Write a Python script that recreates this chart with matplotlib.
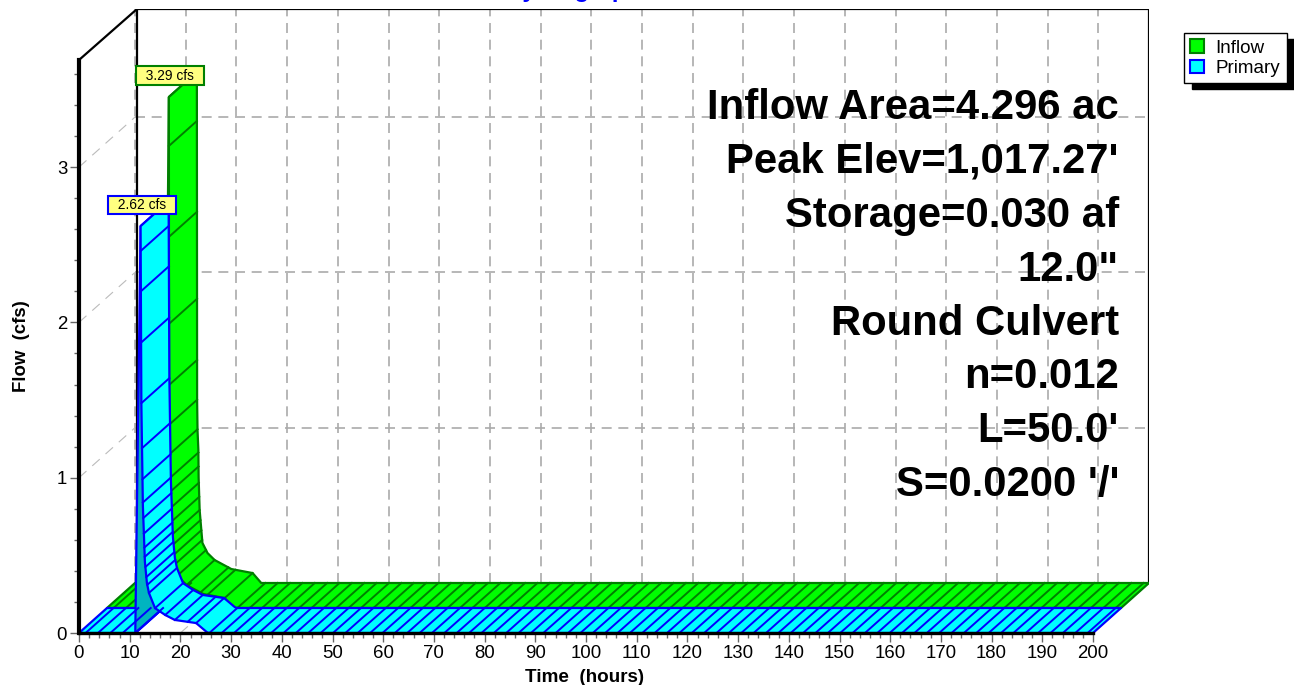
from matplotlib import pyplot as plt
from matplotlib.patches import Patch, Polygon
import numpy as np

# hydrograph outlines
primary_time = [0, 11.1, 12.15, 12.3, 12.6, 13.0, 13.4, 13.8, 15.0, 17.0, 18.9, 23.1, 25.2, 25.6, 200]
primary_flow = [0, 0, 2.62, 1.48, 0.82, 0.457, 0.32, 0.258, 0.16, 0.116, 0.084, 0.064, 0.006, 0, 0]
inflow_time = [0, 11.3, 12.2, 12.25, 12.33, 12.5, 12.55, 12.75, 13.3, 14.3, 15.7, 19.0, 23.2, 24.9, 200]
inflow_flow = [0, 0, 3.29, 1.18, 0.985, 0.856, 0.68, 0.47, 0.258, 0.193, 0.148, 0.09, 0.064, 0, 0]

# flows where the cross lines meet the falling limb
primary_rungs = [2.46, 2.20, 1.87, 1.48, 1.19, 0.99, 0.84, 0.74, 0.64, 0.55, 0.49, 0.425, 0.36,
                 0.31, 0.258, 0.16, 0.116, 0.084, 0.072, 0.064]
inflow_rungs = [2.975, 2.39, 1.83, 1.436, 1.18, 0.99, 0.84, 0.75, 0.645, 0.555, 0.47, 0.405, 0.34,
                0.277, 0.212, 0.148, 0.10, 0.085, 0.064]

time_ticks = list(range(0, 201, 10))
flow_ticks = [0, 1, 2, 3]
note_lines = ["Inflow Area=4.296 ac", "Peak Elev=1,017.27'", "Storage=0.030 af", '12.0"',
              "Round Culvert", "n=0.012", "L=50.0'", "S=0.0200 '/'"]

plt.rcParams['font.family'] = ['Liberation Sans', 'DejaVu Sans']

PX_T = 5.07     # pixels per hour
PX_Q = 155.3    # pixels per cfs
DT = 28 / PX_T  # depth step of one series, in hours
DQ = 25 / PX_Q  # depth step of one series, in cfs

fig = plt.figure(figsize=(12.94, 6.85), dpi=100)
ax = fig.add_axes([79 / 1294, 52 / 685, 1070 / 1294, 624 / 685])
ax.set_xlim(0, 1070 / PX_T)
ax.set_ylim(0, 624 / PX_Q)
ax.patch.set_visible(False)

back_t = 2 * DT
back_q = 2 * DQ
top_q = 624 / PX_Q
front_top = 573 / PX_Q

# walls and grid
grid_kw = dict(color='#aaaaaa', lw=1.2, dashes=(6, 4), zorder=0.5)
diag_kw = dict(color='#bbbbbb', lw=0.8, dashes=(9, 7), zorder=0.5)
for t in time_ticks:
    ax.plot([t + back_t, t + back_t], [back_q, top_q], **grid_kw)
    ax.plot([t, t + back_t], [0, back_q], **diag_kw)
for q in flow_ticks[1:]:
    ax.plot([back_t, 200 + back_t], [q + back_q, q + back_q], **grid_kw)
    ax.plot([0, back_t], [q, q + back_q], **diag_kw)

wall_left = back_t + 2 / PX_T
ax.plot([0, wall_left, 200 + back_t, 200 + back_t], [front_top, top_q, top_q, back_q],
        color='black', lw=1.6, zorder=0.8, solid_joinstyle='miter')
ax.plot([wall_left, wall_left], [back_q, top_q], color='black', lw=1.6, zorder=0.8)


def strip(t, q, shift_t, shift_q, face, edge, z):
    t = np.asarray(t, dtype=float)
    q = np.asarray(q, dtype=float)
    pts = np.concatenate([np.column_stack([t, q]),
                          np.column_stack([t + DT, q + DQ])[::-1]])
    pts = pts + [shift_t, shift_q]
    ax.add_patch(Polygon(pts, closed=True, facecolor=face, edgecolor=edge, lw=1.6,
                         joinstyle='round', zorder=z))


def ribbon(time, flow, rungs, n, face, under, edge, z):
    time = np.asarray(time, dtype=float)
    flow = np.asarray(flow, dtype=float)
    sh_t = n * DT
    sh_q = n * DQ
    peak = int(np.argmax(flow))
    strip(time[:2], flow[:2], sh_t, sh_q, face, edge, z)
    strip(time[1:peak + 1], flow[1:peak + 1], sh_t, sh_q, under, edge, z + 0.01)
    strip(time[peak:], flow[peak:], sh_t, sh_q, face, edge, z + 0.02)

    # cross lines on the falling limb, then evenly spaced on the flat parts
    fall_t = np.interp(rungs, flow[peak:peak + 13][::-1], time[peak:peak + 13][::-1])
    for t, q in zip(fall_t, rungs):
        ax.plot([t + sh_t, t + sh_t + DT], [q + sh_q, q + sh_q + DQ], color=edge, lw=1.4,
                zorder=z + 0.03)
    flat_end = time[-2]
    for t in np.arange(1.3, 200, 2.44):
        if t < time[1] or t > flat_end:
            ax.plot([t + sh_t, t + sh_t + DT], [sh_q, sh_q + DQ], color=edge, lw=1.4,
                    zorder=z + 0.03)
    return time[peak], flow[peak]


inflow_peak = ribbon(inflow_time, inflow_flow, inflow_rungs, 1, '#00ff00', '#00aa00', '#008000', 1.1)
primary_peak = ribbon(primary_time, primary_flow, primary_rungs, 0, '#00ffff', '#00b4c0', '#0000ff', 1.2)

# peak labels
ax.annotate("  3.29 cfs  ", xy=(inflow_peak[0] + 1.5 * DT, inflow_peak[1] + 1.5 * DQ),
            xytext=(-9.4, 6.5), textcoords='offset points', ha='center', va='center', fontsize=9.9,
            bbox=dict(boxstyle='square,pad=0.15', fc='#ffff80', ec='#008000', lw=1.5), zorder=5)
ax.annotate("  2.62 cfs  ", xy=(primary_peak[0] + 0.5 * DT, primary_peak[1] + 0.5 * DQ),
            xytext=(-9.4, 6.5), textcoords='offset points', ha='center', va='center', fontsize=9.9,
            bbox=dict(boxstyle='square,pad=0.15', fc='#ffff80', ec='#0000ff', lw=1.5), zorder=5)

# text block, one baseline per line
for i, line in enumerate(note_lines):
    ax.text((1119 - 79) / PX_T, (633 - 119 - i * 53.9) / PX_Q, line, ha='right', va='baseline',
            fontsize=30.2, fontweight='bold', color='black', zorder=6)

# axes
for name in ['top', 'right']:
    ax.spines[name].set_visible(False)
ax.spines['left'].set_bounds(0, front_top)
ax.spines['bottom'].set_bounds(0, 200)
ax.spines['left'].set_linewidth(3)
ax.spines['bottom'].set_linewidth(2.4)
ax.spines['left'].set_zorder(3)
ax.spines['bottom'].set_zorder(3)
ax.set_xticks(time_ticks)
ax.set_xticks(np.arange(0, 201, 2), minor=True)
ax.set_yticks(flow_ticks)
ax.set_yticks(np.arange(0, 3.61, 0.2), minor=True)
ax.tick_params(which='major', length=6.5, width=1, color='#666666', labelsize=13.4, pad=2)
ax.tick_params(which='minor', length=3.5, width=1, color='#666666')
ax.set_xlabel("Time  (hours)", fontsize=13.6, fontweight='bold', va='center')
ax.set_ylabel("Flow  (cfs)", fontsize=13.4, fontweight='bold', va='center')
ax.xaxis.set_label_coords((585 - 79) / 1070, (633 - 677) / 624)
ax.yaxis.set_label_coords((22 - 79) / 1070, (633 - 346) / 624)

# title sits mostly off the top of the picture, as in the source
fig.text(573 / 1294, 1 + 3 / 685, "Hydrograph", ha='center', va='baseline', fontsize=17.3,
         fontweight='bold', color='#0000ff')

handles = [Patch(facecolor='#00ff00', edgecolor='#008000', lw=1.5, label='Inflow'),
           Patch(facecolor='#00ffff', edgecolor='#0000ff', lw=1.5, label='Primary')]
fig.legend(handles=handles, loc='upper left', bbox_to_anchor=(1184 / 1294, 1 - 33 / 685),
           fontsize=13.6, frameon=True, fancybox=False, framealpha=1, edgecolor='black',
           borderpad=0.33, labelspacing=0.17, handlelength=0.75, handleheight=0.72,
           handletextpad=0.6, borderaxespad=0,
           shadow=dict(ox=5.5, oy=-4, facecolor='black', edgecolor='black', alpha=1))

fig.savefig('out.png', dpi=100)
